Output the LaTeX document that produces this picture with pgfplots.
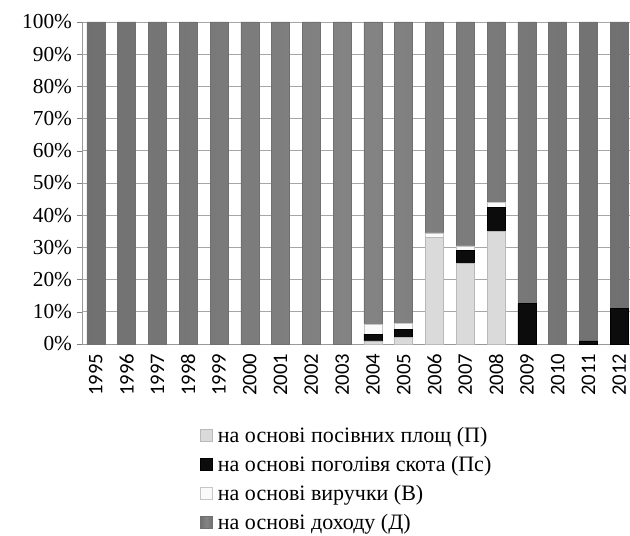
\documentclass[border=0pt]{standalone}
\usepackage{pgfplots}
\pgfplotsset{compat=1.18}
\usepackage{fontspec}
\setmainfont{Liberation Serif}
\newfontfamily\yearfont{Carlito}

\definecolor{cP}{RGB}{218,218,218}
\definecolor{cPs}{RGB}{12,12,12}
\definecolor{cV}{RGB}{250,250,250}
\definecolor{cD}{RGB}{132,132,132}
\definecolor{cDd}{RGB}{112,112,112}

\pgfplotstableread{
x  P   Ps   V    D
0  0   0    0    100
1  0   0    0    100
2  0   0    0    100
3  0   0    0    100
4  0   0    0    100
5  0   0    0    100
6  0   0    0    100
7  0   0    0    100
8  0   0    0    100
9  1   2    3    94
10 2   2.5  2    93.5
11 33  0    1.5  65.5
12 25  4    1.5  69.5
13 35  7.5  1.5  56
14 0   12.5 0    87.5
15 0   0    0    100
16 0   1    0    99
17 0   11   0    89
}\shares

\begin{document}
\begin{tikzpicture}
% 1px = 0.75pt; page is 630 x 535 px
\useasboundingbox (0pt,0pt) rectangle (472.5pt,401.25pt);
\begin{axis}[
    at={(61.5pt,143.25pt)}, anchor=south west,
    scale only axis,
    width=411pt, height=241.5pt,
    ybar stacked, bar width=13.5pt,
    xmin=-0.45, xmax=17.35,
    ymin=0, ymax=100,
    xtick={0,...,17},
    xticklabels={1995,1996,1997,1998,1999,2000,2001,2002,2003,2004,2005,2006,2007,2008,2009,2010,2011,2012},
    x tick label style={rotate=90, anchor=east, font=\yearfont\fontsize{15.5}{16}\selectfont},
    major x tick style={draw=none},
    ytick={0,10,...,100},
    yticklabel={\pgfmathprintnumber{\tick}\%},
    /pgf/number format/assume math mode=true,
    y tick label style={font=\fontsize{16}{18}\selectfont},
    tick align=outside, major tick length=4pt,
    ytick style={gray},
    axis x line*=bottom, axis y line*=left,
    axis line style={gray!80, -},
    ymajorgrids, grid style={gray!70, line width=0.6pt},
    legend style={at={(0.215,-0.248)}, anchor=north west, draw=none,
        inner sep=0pt, font=\fontsize{16.5}{19}\selectfont, row sep=4.8pt,
        legend cell align=left},
    legend image code/.code={\draw[#1] (0pt,-4.5pt) rectangle (9pt,4.5pt); \path (11pt,0pt);},
]
\addplot[fill=cP, draw=gray!55] table[x=x, y=P] {\shares};
\addlegendentry{на основі посівних площ (П)}
\addplot[fill=cPs, draw=black] table[x=x, y=Ps] {\shares};
\addlegendentry{на основі поголівя скота (Пс)}
\addplot[fill=cV, draw=gray!45] table[x=x, y=V] {\shares};
\addlegendentry{на основі виручки (В)}
\addplot[left color=cDd, right color=cDd, middle color=cD, draw=cDd] table[x=x, y=D] {\shares};
\addlegendentry{на основі доходу (Д)}
\end{axis}
\end{tikzpicture}
\end{document}
